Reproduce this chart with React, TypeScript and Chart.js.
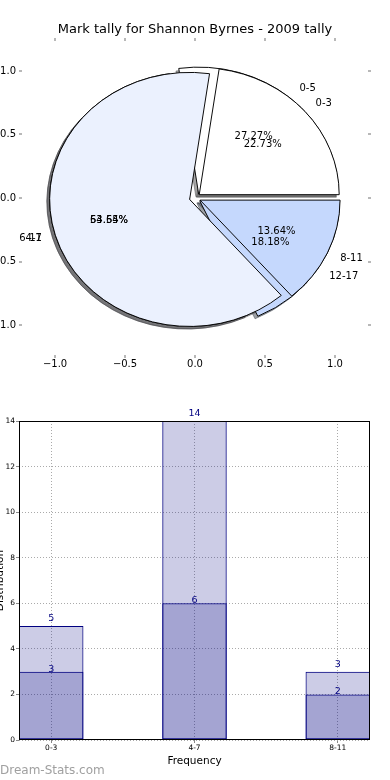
import React, { useEffect, useRef } from 'react';
import { Chart, registerables } from 'chart.js';

Chart.register(...registerables);

const FONT = 'DejaVu Sans';
const TITLE = 'Mark tally for Shannon Byrnes - 2009 tally';

// Pie data (two overlaid pies)
const PIE_A_LABELS = ['0-3', '4-7', '8-11'];
const PIE_A_VALUES = [5, 14, 3];
const PIE_B_LABELS = ['0-5', '6-11', '12-17'];
const PIE_B_VALUES = [3, 6, 2];
const PIE_COLORS = ['#ffffff', '#ebf1fe', '#c5d8fd'];
const PIE_TICKS = [-1, -0.5, 0, 0.5, 1];
const PIE_LIMIT = 1.236;
const PIE_EXPLODE = 0.04;
const PIE_SHADOW = 0.02;
const LABEL_DISTANCE = 1.1;
const PCT_DISTANCE = 0.6;

// Bar data
const BAR_CATEGORIES = ['0-3', '4-7', '8-11'];
const BAR_TOTALS = [5, 14, 3];
const BAR_PARTS = [3, 6, 2];
const BAR_Y_MAX = 14;
const BAR_Y_STEP = 2;
const BAR_X_TITLE = 'Frequency';
const BAR_Y_TITLE = 'Distribution';
const WATERMARK = 'Dream-Stats.com';

const PIE_CANVAS = 390;

const shadowOf = (hex: string) => {
  const n = parseInt(hex.slice(1), 16);
  const r = (n >> 16) & 255, g = (n >> 8) & 255, b = n & 255;
  return `rgba(${Math.round(r * 0.3)},${Math.round(g * 0.3)},${Math.round(b * 0.3)},0.5)`;
};

const pieTickFmt = (v: number) => v.toFixed(1).replace('-', '\u2212');

function pieScale(position: string, showLabels: boolean, size: number) {
  const horizontal = position === 'top' || position === 'bottom';
  return {
    type: 'linear',
    position,
    axis: horizontal ? 'x' : 'y',
    min: -PIE_LIMIT,
    max: PIE_LIMIT,
    afterBuildTicks: (s: any) => {
      s.ticks = PIE_TICKS.map((value) => ({ value }));
    },
    afterFit: (s: any) => {
      if (horizontal) s.height = size;
      else s.width = size;
    },
    ticks: {
      display: showLabels,
      color: '#000',
      font: { family: FONT, size: 10 },
      padding: horizontal ? 0 : 3,
      autoSkip: false,
      maxRotation: 0,
      callback: (v: any) => pieTickFmt(Number(v)),
    },
    grid: {
      display: true,
      drawOnChartArea: false,
      drawTicks: true,
      tickLength: 3,
      color: '#b8b8b8',
      tickColor: '#b8b8b8',
      lineWidth: 2,
    },
    border: { display: false },
  };
}

function ellipsePlugin(sy: number, explodePx: number, shiftX: number, shiftY: number) {
  return {
    id: 'ellipseArcs',
    beforeDatasetsDraw(chart: any) {
      const ctx = chart.ctx;
      chart.getDatasetMeta(0).data.forEach((arc: any) => {
        const mid = (arc.startAngle + arc.endAngle) / 2;
        ctx.save();
        ctx.translate(arc.x + shiftX, arc.y + shiftY);
        ctx.scale(1, sy);
        ctx.translate(Math.cos(mid) * explodePx - arc.x, Math.sin(mid) * explodePx - arc.y);
        arc.draw(ctx);
        ctx.restore();
      });
      return false;
    },
  };
}

function makePie(canvas: HTMLCanvasElement, labels: string[], values: number[], shadow: boolean, radius: number, plugin: any) {
  const order = values.map((_, i) => values.length - 1 - i);
  const fill = order.map((i) => (shadow ? shadowOf(PIE_COLORS[i]) : PIE_COLORS[i]));
  return new Chart(canvas, {
    type: 'pie',
    data: {
      labels: order.map((i) => labels[i]),
      datasets: [
        {
          data: order.map((i) => values[i]),
          backgroundColor: fill,
          borderColor: shadow ? fill : '#000000',
          borderWidth: 1,
          borderJoinStyle: 'miter',
          radius,
          rotation: 90,
        } as any,
      ],
    },
    options: {
      responsive: false,
      animation: false,
      events: [],
      rotation: 90,
      radius,
      layout: { padding: 0 },
      plugins: { legend: { display: false }, tooltip: { enabled: false }, title: { display: false } },
    } as any,
    plugins: [plugin],
  });
}

export default function App() {
  const axesRef = useRef<HTMLCanvasElement>(null);
  const shadowBRef = useRef<HTMLCanvasElement>(null);
  const shadowARef = useRef<HTMLCanvasElement>(null);
  const pieBRef = useRef<HTMLCanvasElement>(null);
  const pieARef = useRef<HTMLCanvasElement>(null);
  const barRef = useRef<HTMLCanvasElement>(null);

  useEffect(() => {
    Chart.defaults.font.family = FONT;
    const charts: Chart[] = [];
    const pies: { chart: Chart; labels: string[]; values: number[] }[] = [];
    const geom = { sy: 1, explodePx: 0, left: 0, top: 0 };

    const labelPlugin = {
      id: 'pieLabels',
      afterDraw(chart: any) {
        const ctx = chart.ctx;
        ctx.save();
        ctx.fillStyle = '#000';
        ctx.font = `10px "${FONT}"`;
        ctx.textBaseline = 'middle';
        for (const p of pies) {
          const arcs = p.chart.getDatasetMeta(0).data as any[];
          const total = p.values.reduce((a, b) => a + b, 0);
          arcs.forEach((arc: any, i: number) => {
            const idx = p.values.length - 1 - i;
            const mid = (arc.startAngle + arc.endAngle) / 2;
            const c = Math.cos(mid), s = Math.sin(mid);
            const ex = geom.left + arc.x + c * geom.explodePx;
            const ey = geom.top + arc.y + s * geom.explodePx * geom.sy;
            const R = arc.outerRadius;
            ctx.textAlign = c > 0 ? 'left' : 'right';
            ctx.fillText(p.labels[idx], ex + LABEL_DISTANCE * R * c, ey + LABEL_DISTANCE * R * s * geom.sy);
            ctx.textAlign = 'center';
            const pct = ((p.values[idx] / total) * 100).toFixed(2) + '%';
            ctx.fillText(pct, ex + PCT_DISTANCE * R * c, ey + PCT_DISTANCE * R * s * geom.sy);
          });
        }
        ctx.restore();
      },
    };

    const titleHeight = 22 + 13 * 1.2;
    const axes = new Chart(axesRef.current!, {
      type: 'scatter',
      data: { datasets: [{ data: [] }] },
      options: {
        responsive: false,
        animation: false,
        events: [],
        layout: { padding: 0 },
        plugins: {
          legend: { display: false },
          tooltip: { enabled: false },
          title: {
            display: true,
            text: TITLE,
            color: '#000',
            font: { family: FONT, size: 13, weight: 'normal', lineHeight: 1.2 },
            padding: { top: 22, bottom: 0 },
          },
        },
        scales: {
          x: pieScale('bottom', true, 35),
          x2: pieScale('top', false, 41 - titleHeight),
          y: pieScale('left', true, 22),
          y2: pieScale('right', false, 22),
        },
      } as any,
      plugins: [labelPlugin],
    });
    charts.push(axes);

    const xs: any = axes.scales.x;
    const ys: any = axes.scales.y;
    const cx = xs.getPixelForValue(0);
    const cy = ys.getPixelForValue(0);
    const rx = xs.getPixelForValue(1) - cx;
    const ry = cy - ys.getPixelForValue(1);
    geom.sy = ry / rx;
    geom.explodePx = PIE_EXPLODE * rx;
    geom.left = cx - PIE_CANVAS / 2;
    geom.top = cy - PIE_CANVAS / 2;
    [shadowBRef, shadowARef, pieBRef, pieARef].forEach((r) => {
      r.current!.style.left = geom.left + 'px';
      r.current!.style.top = geom.top + 'px';
    });
    const sx = -PIE_SHADOW * rx;
    const syShift = PIE_SHADOW * ry;
    charts.push(makePie(shadowBRef.current!, PIE_B_LABELS, PIE_B_VALUES, true, rx, ellipsePlugin(geom.sy, geom.explodePx, sx, syShift)));
    charts.push(makePie(shadowARef.current!, PIE_A_LABELS, PIE_A_VALUES, true, rx, ellipsePlugin(geom.sy, geom.explodePx, sx, syShift)));
    const pieB = makePie(pieBRef.current!, PIE_B_LABELS, PIE_B_VALUES, false, rx, ellipsePlugin(geom.sy, geom.explodePx, 0, 0));
    const pieA = makePie(pieARef.current!, PIE_A_LABELS, PIE_A_VALUES, false, rx, ellipsePlugin(geom.sy, geom.explodePx, 0, 0));
    charts.push(pieB, pieA);
    pies.push({ chart: pieB, labels: PIE_B_LABELS, values: PIE_B_VALUES });
    pies.push({ chart: pieA, labels: PIE_A_LABELS, values: PIE_A_VALUES });
    axes.draw();

    // ---- Bar chart ----
    const VALUE_LIFT = [5, 0];
    const barExtras = {
      id: 'barExtras',
      afterDatasetsDraw(chart: any) {
        const { ctx, chartArea: a } = chart;
        ctx.save();
        ctx.strokeStyle = '#000';
        ctx.lineWidth = 1;
        ctx.strokeRect(a.left + 0.5, a.top + 0.5, a.right - a.left - 1, a.bottom - a.top - 1);
        ctx.fillStyle = '#000080';
        ctx.font = `9.5px "${FONT}"`;
        ctx.textAlign = 'center';
        ctx.textBaseline = 'alphabetic';
        chart.data.datasets.forEach((ds: any, di: number) => {
          const meta = chart.getDatasetMeta(di);
          meta.data.forEach((bar: any, i: number) => {
            ctx.fillText(String(ds.data[i].y), bar.x, bar.y - VALUE_LIFT[di]);
          });
        });
        ctx.restore();
      },
      afterDraw(chart: any) {
        const { ctx, chartArea: a } = chart;
        ctx.save();
        ctx.fillStyle = '#000';
        ctx.font = `10.5px "${FONT}"`;
        ctx.translate(3, (a.top + a.bottom) / 2);
        ctx.rotate(-Math.PI / 2);
        ctx.textAlign = 'center';
        ctx.textBaseline = 'alphabetic';
        ctx.fillText(BAR_Y_TITLE, 0, 0);
        ctx.restore();
        ctx.save();
        ctx.fillStyle = '#a0a0a0';
        ctx.font = `12px "${FONT}"`;
        ctx.textAlign = 'left';
        ctx.textBaseline = 'middle';
        ctx.fillText(WATERMARK, 0, chart.height - 9.5);
        ctx.restore();
      },
    };

    const barDataset = (values: number[]) => ({
      data: values.map((v, i) => ({ x: i, y: v })),
      backgroundColor: 'rgba(0,0,128,0.2)',
      borderColor: '#000080',
      borderWidth: 1,
      borderSkipped: false,
      grouped: false,
      barPercentage: 0.45,
      categoryPercentage: 1,
    });

    const bar = new Chart(barRef.current!, {
      type: 'bar',
      data: { datasets: [barDataset(BAR_TOTALS), barDataset(BAR_PARTS)] as any },
      options: {
        responsive: false,
        animation: false,
        events: [],
        layout: { padding: { top: 31, right: 20, left: 0, bottom: 0 } },
        plugins: { legend: { display: false }, tooltip: { enabled: false }, title: { display: false } },
        scales: {
          x: {
            type: 'linear',
            min: -0.225,
            max: BAR_CATEGORIES.length - 1 + 0.225,
            offset: false,
            afterBuildTicks: (s: any) => {
              s.ticks = BAR_CATEGORIES.map((_, i) => ({ value: i }));
            },
            afterFit: (s: any) => {
              s.height = 40;
            },
            ticks: {
              color: '#000',
              font: { family: FONT, size: 7.5 },
              padding: 1,
              autoSkip: false,
              maxRotation: 0,
              callback: (_v: any, i: number) => BAR_CATEGORIES[i],
            },
            grid: { offset: false, color: '#aaaaaa', lineWidth: 1, drawTicks: true, tickLength: 3, tickColor: '#888888', tickBorderDash: [] },
            border: { display: false, dash: [1, 2] },
            title: {
              display: true,
              text: BAR_X_TITLE,
              color: '#000',
              font: { family: FONT, size: 10.5, lineHeight: 1.2 },
              padding: { top: 0, bottom: 12.7 },
            },
          },
          y: {
            type: 'linear',
            min: 0,
            max: BAR_Y_MAX,
            afterFit: (s: any) => {
              s.width = 19;
            },
            ticks: { stepSize: BAR_Y_STEP, color: '#000', font: { family: FONT, size: 7.5 }, padding: 1 },
            grid: { color: '#aaaaaa', lineWidth: 1, drawTicks: true, tickLength: 3, tickColor: '#888888', tickBorderDash: [] },
            border: { display: false, dash: [1, 2] },
          },
        },
      } as any,
      plugins: [barExtras],
    });
    charts.push(bar);

    return () => charts.forEach((c) => c.destroy());
  }, []);

  const abs: React.CSSProperties = { position: 'absolute', display: 'block' };
  return (
    <div style={{ position: 'absolute', left: 0, top: 0, width: 390, height: 780, background: '#fff', overflow: 'hidden' }}>
      <canvas ref={shadowBRef} width={PIE_CANVAS} height={PIE_CANVAS} style={{ ...abs }} />
      <canvas ref={shadowARef} width={PIE_CANVAS} height={PIE_CANVAS} style={{ ...abs }} />
      <canvas ref={pieBRef} width={PIE_CANVAS} height={PIE_CANVAS} style={{ ...abs }} />
      <canvas ref={pieARef} width={PIE_CANVAS} height={PIE_CANVAS} style={{ ...abs }} />
      <canvas ref={axesRef} width={390} height={390} style={{ ...abs, left: 0, top: 0 }} />
      <canvas ref={barRef} width={390} height={390} style={{ ...abs, left: 0, top: 390 }} />
    </div>
  );
}
